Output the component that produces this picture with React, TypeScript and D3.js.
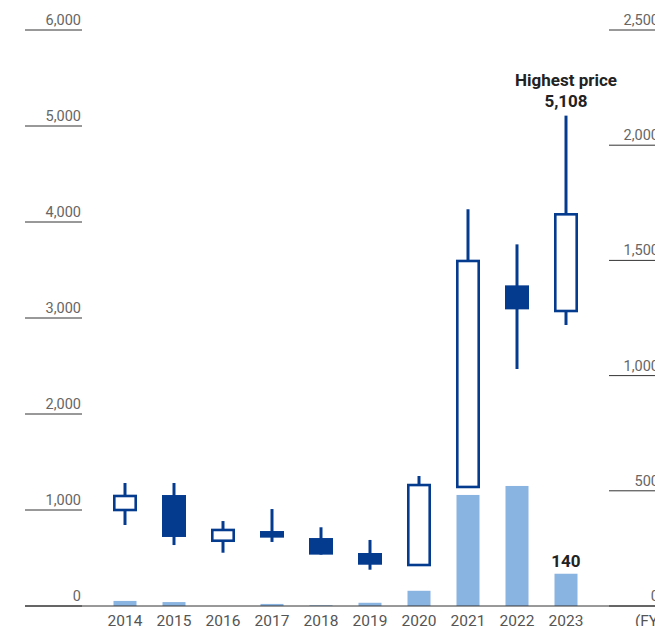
import React from "react";
import * as d3 from "d3";

const years = ["2014", "2015", "2016", "2017", "2018", "2019", "2020", "2021", "2022", "2023"];
const openP = [1000, 1156, 680, 781, 708, 552, 427, 1240, 3340, 3073];
const closeP = [1146, 719, 792, 712, 535, 430, 1260, 3594, 3090, 4080];
const highP = [1281, 1281, 885, 1010, 820, 688, 1354, 4132, 3767, 5108];
const lowP = [844, 635, 555, 667, 535, 378, 427, 1240, 2469, 2927];
const barValues = [22, 17, 0, 9, 3, 14, 66, 482, 521, 140];
const leftTicks = [0, 1000, 2000, 3000, 4000, 5000, 6000];
const rightTicks = [0, 500, 1000, 1500, 2000, 2500];

const W = 655;
const H = 626;
const DARK = "#053b8f";
const LIGHT = "#89b3e0";
const FONT = "Roboto, 'Noto Sans', sans-serif";

export default function App() {
  const x = d3.scaleBand<string>().domain(years).range([100.5, 590.5]).padding(0);
  const yL = d3.scaleLinear().domain([0, 6000]).range([606, 30]);
  const yR = d3.scaleLinear().domain([0, 2500]).range([606, 30]);
  const fmt = d3.format(",");
  const cx = (i: number) => (x(years[i]) as number) + x.bandwidth() / 2;
  const barW = 23;
  const boxW = 24;
  const sw = 2.6;

  return (
    <svg width={W} height={H} style={{ position: "absolute", left: 0, top: 0 }} fontFamily={FONT}>
      <rect width={W} height={H} fill="#fff" />
      {barValues.map((v, i) => (
        <rect key={"b" + i} x={cx(i) - barW / 2} y={yR(v)} width={barW} height={606 - yR(v)} fill={LIGHT} />
      ))}
      {leftTicks.map((t) => (
        <g key={"l" + t}>
          <line x1={25} x2={82} y1={yL(t)} y2={yL(t)} stroke="#333" strokeWidth={1} />
          <text x={81} y={yL(t) - 5} textAnchor="end" fontSize={14.5} fill="#666">{fmt(t)}</text>
        </g>
      ))}
      {rightTicks.map((t) => (
        <g key={"r" + t}>
          <line x1={609} x2={W} y1={yR(t)} y2={yR(t)} stroke="#333" strokeWidth={1} />
          <text x={659} y={yR(t) - 5} textAnchor="end" fontSize={14.5} fill="#666">{fmt(t)}</text>
        </g>
      ))}
      <line x1={25} x2={W} y1={606} y2={606} stroke="#333" strokeWidth={1} />
      {years.map((yr, i) => {
        const up = closeP[i] >= openP[i];
        const top = Math.max(openP[i], closeP[i]);
        const bot = Math.min(openP[i], closeP[i]);
        const c = cx(i);
        return (
          <g key={"c" + yr}>
            <line x1={c} x2={c} y1={yL(highP[i])} y2={yL(lowP[i])} stroke={DARK} strokeWidth={3} />
            {up ? (
              <rect x={c - (boxW - sw) / 2} y={yL(top)} width={boxW - sw} height={yL(bot) - yL(top)} fill="#fff" stroke={DARK} strokeWidth={sw} />
            ) : (
              <rect x={c - boxW / 2} y={yL(top)} width={boxW} height={yL(bot) - yL(top)} fill={DARK} />
            )}
          </g>
        );
      })}
      {years.map((yr, i) => (
        <text key={"x" + yr} x={cx(i)} y={626} textAnchor="middle" fontSize={15.5} fill="#555">{yr}</text>
      ))}
      <text x={635} y={626} fontSize={15.5} fill="#555">(FY)</text>
      <text x={cx(9)} y={yR(barValues[9]) - 7} textAnchor="middle" fontSize={17} fontWeight="bold" fill="#222">{barValues[9]}</text>
      <text x={cx(9)} y={86} textAnchor="middle" fontSize={17} fontWeight="bold" fill="#222">Highest price</text>
      <text x={cx(9)} y={107} textAnchor="middle" fontSize={17} fontWeight="bold" fill="#222">{fmt(highP[9])}</text>
    </svg>
  );
}
